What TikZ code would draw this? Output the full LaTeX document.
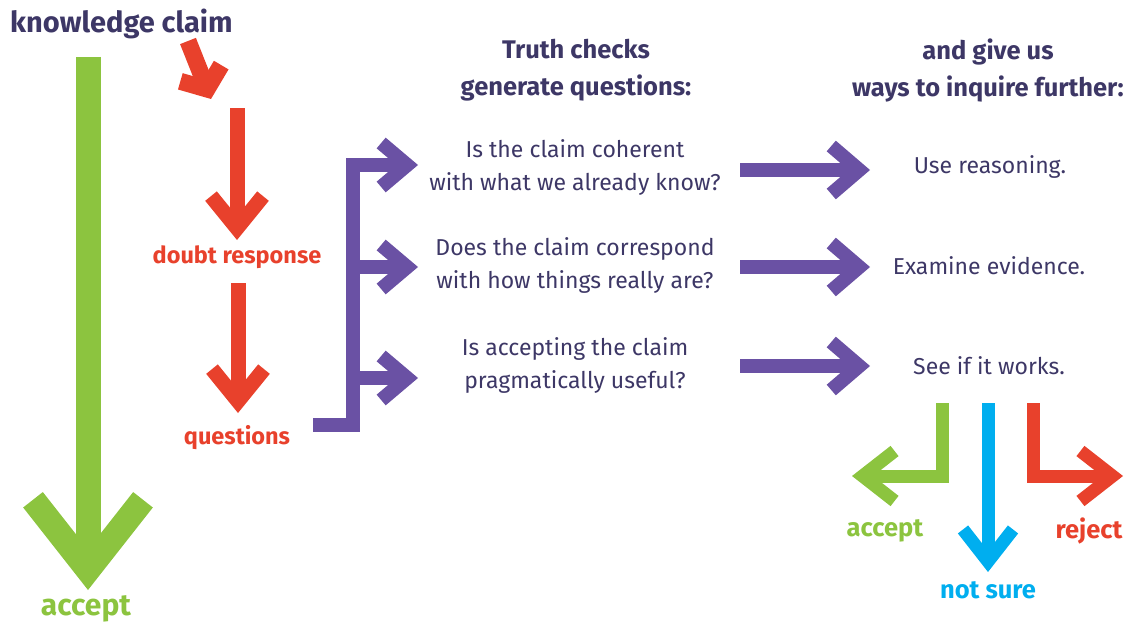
\documentclass[tikz,border=0pt]{standalone}
\usepackage{fontspec}
\setmainfont{Fira Sans}
\usetikzlibrary{arrows.meta}
\definecolor{ink}{HTML}{3D3766}
\definecolor{cred}{HTML}{E8412C}
\definecolor{cgreen}{HTML}{8CC43F}
\definecolor{cblue}{HTML}{00AEEF}
\definecolor{cpurp}{HTML}{6A51A4}
\tikzset{
  txt/.style={font=\fontsize{23}{33}\selectfont, text=ink, align=center, inner sep=0pt},
  head/.style={font=\bfseries\fontsize{25.5}{37}\selectfont, text=ink, align=center, inner sep=0pt},
  lab/.style={font=\bfseries\fontsize{23.5}{26}\selectfont, inner sep=0pt},
  blab/.style={font=\bfseries\fontsize{25.5}{28}\selectfont, inner sep=0pt},
  bigarrow/.style={line width=25pt, draw=cgreen, -{Straight Barb[sharp, length=70pt, width=110pt]}},
  redarrow/.style={line width=15pt, draw=cred, -{Straight Barb[sharp, length=32pt, width=52pt]}},
  diagarrow/.style={line width=17pt, draw=cred, -{Straight Barb[sharp, length=17pt, width=44pt]}},
  parrow/.style={line width=14pt, draw=cpurp, line join=miter, -{Straight Barb[sharp, length=26pt, width=44pt]}},
  rarrow/.style={line width=14pt, draw=cpurp, -{Straight Barb[sharp, length=28pt, width=48pt]}},
  sarrow/.style={line width=13pt, line join=miter, -{Straight Barb[sharp, length=32pt, width=50pt]}},
}
\begin{document}
\begin{tikzpicture}[x=1pt, y=-1pt]
\useasboundingbox (0,0) rectangle (1127,626);
% titles
\node[font=\bfseries\fontsize{29}{32}\selectfont, text=ink, anchor=base west, inner sep=0pt] (kc) at (10,33) {knowledge claim};
\node[head] (h1) at (576,70) {Truth checks\\generate questions:};
\node[head] (h2) at (988,70) {and give us\\ways to inquire further:};
% left column
\node[font=\bfseries\fontsize{30}{33}\selectfont, text=cgreen, inner sep=0pt] (acc) at (86,609) {accept};
\node[lab, text=cred] (doubt) at (237,257) {doubt response};
\node[lab, text=cred] (ques) at (237,438) {questions};
\coordinate (gtop) at (88,57);
\coordinate (gtip) at (88,590);
\draw[bigarrow] (gtop) -- (gtip);
\coordinate (dstart) at (188,41);
\coordinate (dtip) at (211,99);
\draw[diagarrow] (dstart) -- (dtip);
\coordinate (r1top) at (237,108);
\coordinate (r1tip) at (237,240);
\draw[redarrow] (r1top) -- (r1tip);
\coordinate (r2top) at (238,283);
\coordinate (r2tip) at (238,413);
\draw[redarrow] (r2top) -- (r2tip);
% questions
\node[txt] (q1) at (575,167) {Is the claim coherent\\with what we already know?};
\node[txt] (q2) at (575,265) {Does the claim correspond\\with how things really are?};
\node[txt] (q3) at (575,365) {Is accepting the claim\\pragmatically useful?};
% bracket
\coordinate (b0) at (313,425);
\coordinate (b1) at (353,425);
\coordinate (b2) at (353,165);
\coordinate (b3) at (353,267);
\coordinate (b4) at (353,378);
\coordinate (t1) at (418,165);
\coordinate (t2) at (418,267);
\coordinate (t3) at (418,378);
\draw[parrow] (b0) -- (b1) -- (b2) -- (t1);
\draw[parrow] (b3) -- (t2);
\draw[parrow] (b4) -- (t3);
% right column
\node[txt] (w1) at (990,167) {Use reasoning.};
\node[txt] (w2) at (989,266) {Examine evidence.};
\node[txt] (w3) at (989,366) {See if it works.};
\coordinate (s1) at (740,170);
\coordinate (e1) at (870,170);
\coordinate (s2) at (740,267);
\coordinate (e2) at (870,267);
\coordinate (s3) at (740,366);
\coordinate (e3) at (870,366);
\draw[rarrow] (s1) -- (e1);
\draw[rarrow] (s2) -- (e2);
\draw[rarrow] (s3) -- (e3);
% bottom outcomes
\node[blab, text=cgreen] (oacc) at (885,531) {accept};
\node[blab, text=cblue] (ons) at (988,590) {not sure};
\node[blab, text=cred] (orej) at (1089,531) {reject};
\coordinate (ga) at (942,403);
\coordinate (gb) at (942,476);
\coordinate (gt) at (852,476);
\draw[sarrow, draw=cgreen] (ga) -- (gb) -- (gt);
\coordinate (ba) at (988,403);
\coordinate (bt) at (988,572);
\draw[sarrow, draw=cblue] (ba) -- (bt);
\coordinate (ra) at (1033,403);
\coordinate (rb) at (1033,476);
\coordinate (rt) at (1123,476);
\draw[sarrow, draw=cred] (ra) -- (rb) -- (rt);
\end{tikzpicture}
\end{document}
